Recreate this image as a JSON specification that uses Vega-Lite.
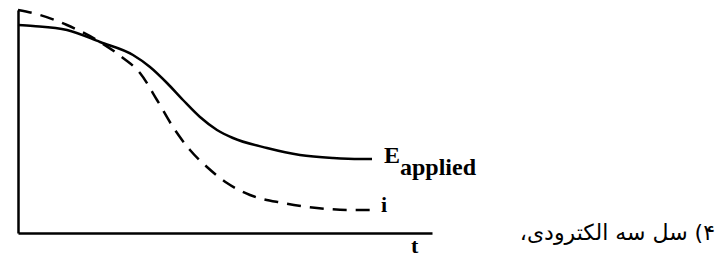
{
  "$schema": "https://vega.github.io/schema/vega-lite/v6.json",
  "width": 414,
  "height": 223,
  "autosize": "none",
  "padding": {"left": 18, "top": 10, "right": 286, "bottom": 24},
  "background": "white",
  "config": {"view": {"stroke": null}},
  "datasets": {
    "curves": [
      {"x": 0, "y": 208, "s": "E"}, {"x": 15, "y": 207, "s": "E"}, {"x": 49, "y": 203, "s": "E"}, {"x": 82, "y": 191, "s": "E"},
      {"x": 115, "y": 178, "s": "E"}, {"x": 132, "y": 166, "s": "E"}, {"x": 149, "y": 150, "s": "E"}, {"x": 165, "y": 133, "s": "E"},
      {"x": 182, "y": 116, "s": "E"}, {"x": 199, "y": 103, "s": "E"}, {"x": 215, "y": 95, "s": "E"}, {"x": 249, "y": 85, "s": "E"},
      {"x": 282, "y": 78, "s": "E"}, {"x": 315, "y": 75, "s": "E"}, {"x": 342, "y": 74, "s": "E"}, {"x": 354, "y": 74, "s": "E"},
      {"x": 0, "y": 223, "s": "i"}, {"x": 22, "y": 218, "s": "i"}, {"x": 49, "y": 208, "s": "i"}, {"x": 82, "y": 191, "s": "i"},
      {"x": 105, "y": 175, "s": "i"}, {"x": 122, "y": 160, "s": "i"}, {"x": 139, "y": 133, "s": "i"}, {"x": 155, "y": 106, "s": "i"},
      {"x": 172, "y": 83, "s": "i"}, {"x": 189, "y": 66, "s": "i"}, {"x": 209, "y": 50, "s": "i"}, {"x": 232, "y": 38, "s": "i"},
      {"x": 265, "y": 30, "s": "i"}, {"x": 299, "y": 25, "s": "i"}, {"x": 332, "y": 23, "s": "i"}, {"x": 357, "y": 23, "s": "i"}
    ]
  },
  "layer": [
    {
      "data": {"name": "curves"},
      "transform": [{"filter": "datum.s === 'E'"}],
      "mark": {"type": "line", "interpolate": "monotone", "color": "black", "strokeWidth": 2.5},
      "encoding": {
        "x": {"field": "x", "type": "quantitative", "scale": {"domain": [0, 414], "nice": false}, "axis": {"domain": true, "domainColor": "black", "domainWidth": 2.5, "ticks": false, "labels": false, "grid": false, "title": null}},
        "y": {"field": "y", "type": "quantitative", "scale": {"domain": [0, 223], "nice": false}, "axis": {"domain": true, "domainColor": "black", "domainWidth": 2.5, "ticks": false, "labels": false, "grid": false, "title": null}}
      }
    },
    {
      "data": {"name": "curves"},
      "transform": [{"filter": "datum.s === 'i'"}],
      "mark": {"type": "line", "interpolate": "monotone", "color": "black", "strokeWidth": 2.5, "strokeDash": [14, 9]},
      "encoding": {
        "x": {"field": "x", "type": "quantitative"},
        "y": {"field": "y", "type": "quantitative"}
      }
    },
    {
      "data": {"values": [{"x": 366, "y": 70, "label": "E"}]},
      "mark": {"type": "text", "font": "'Liberation Serif', 'Times New Roman', serif", "fontWeight": "bold", "fontSize": 24, "align": "left", "baseline": "alphabetic", "color": "black"},
      "encoding": {"x": {"field": "x", "type": "quantitative"}, "y": {"field": "y", "type": "quantitative"}, "text": {"field": "label"}}
    },
    {
      "data": {"values": [{"x": 382, "y": 58, "label": "applied"}]},
      "mark": {"type": "text", "font": "'Liberation Serif', 'Times New Roman', serif", "fontWeight": "bold", "fontSize": 24, "align": "left", "baseline": "alphabetic", "color": "black"},
      "encoding": {"x": {"field": "x", "type": "quantitative"}, "y": {"field": "y", "type": "quantitative"}, "text": {"field": "label"}}
    },
    {
      "data": {"values": [{"x": 363, "y": 21, "label": "i"}, {"x": 393, "y": -20, "label": "t"}]},
      "mark": {"type": "text", "font": "'Liberation Serif', 'Times New Roman', serif", "fontWeight": "bold", "fontSize": 22, "align": "left", "baseline": "alphabetic", "color": "black"},
      "encoding": {"x": {"field": "x", "type": "quantitative"}, "y": {"field": "y", "type": "quantitative"}, "text": {"field": "label"}}
    },
    {
      "data": {"values": [{"x": 697, "y": -7, "label": "\u202b۴) سل سه الکترودی،\u202c"}]},
      "mark": {"type": "text", "font": "DejaVu Sans", "fontSize": 22, "align": "right", "baseline": "alphabetic", "color": "black"},
      "encoding": {"x": {"field": "x", "type": "quantitative"}, "y": {"field": "y", "type": "quantitative"}, "text": {"field": "label"}}
    }
  ]
}
